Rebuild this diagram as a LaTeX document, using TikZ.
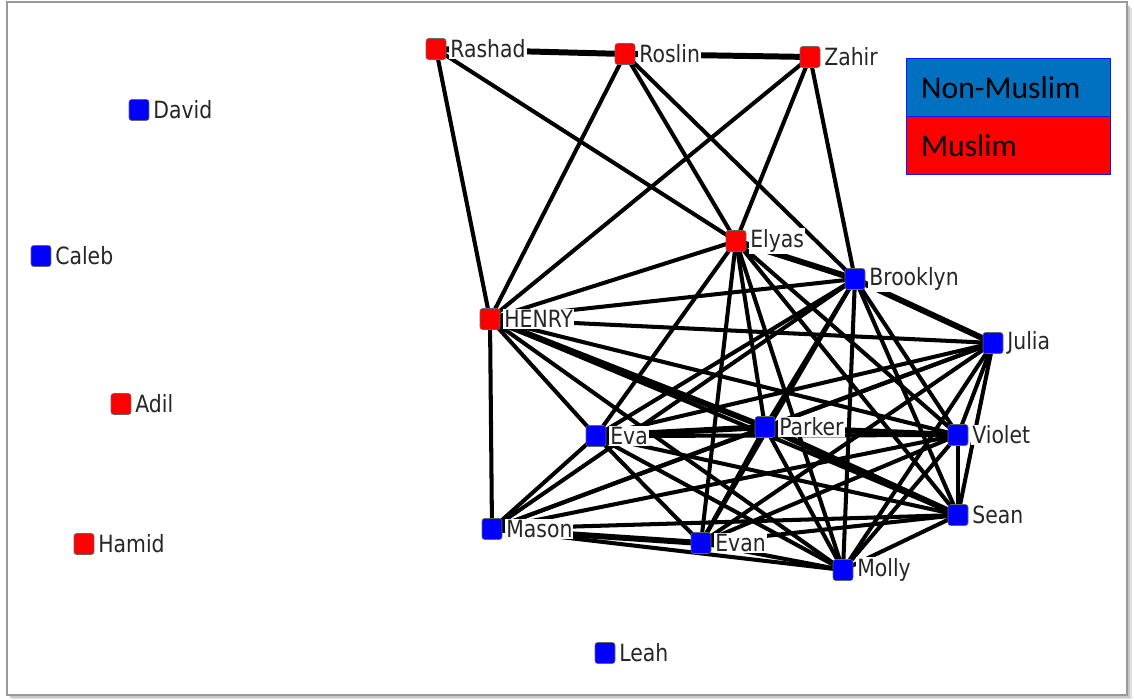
\documentclass[tikz,border=0pt]{standalone}
\usepackage{fontspec}
\newfontfamily\netfont[FakeStretch=0.86]{DejaVu Sans}
\newfontfamily\legfont{Carlito}
\pgfdeclarelayer{framelayer}
\pgfdeclarelayer{edgelayer}
\pgfsetlayers{framelayer,edgelayer,main}
\definecolor{nblue}{RGB}{0,0,255}
\definecolor{nred}{RGB}{255,0,0}
\definecolor{legblue}{RGB}{0,112,192}
\definecolor{legborder}{RGB}{20,20,255}
\tikzset{
  sq/.style={rectangle, rounded corners=1.5pt, minimum width=0.4cm, minimum height=0.42cm, inner sep=0pt, draw=black!60, line width=0.3pt},
  lbl/.style={anchor=west, fill=white, inner sep=0.6pt, font=\netfont\fontsize{13.5}{15}\selectfont, text=black!85, xshift=1.5pt},
  tie/.style={line width=2.3pt, black},
  strongtie/.style={line width=3.4pt, black},
  legcell/.style={rectangle, draw=legborder, line width=0.8pt, minimum width=4.08cm, minimum height=1.16cm, inner sep=0pt, text width=3.9cm, anchor=north west, font=\legfont\fontsize{18}{20}\selectfont, text=black, align=left}
}
\begin{document}
\begin{tikzpicture}[x=0.02cm, y=-0.02cm]
\useasboundingbox (0,0) rectangle (1134,700);
\begin{pgfonlayer}{framelayer}
  \fill[black!12] (12,8) rectangle (1132,699);
  \fill[black!22] (10,6) rectangle (1130,698);
  \filldraw[fill=white, draw=black!40, line width=0.6pt] (7,2) rectangle (1127,695);
\end{pgfonlayer}

% nodes
\foreach \n/\x/\y/\c in {Rashad/436/49/nred, Roslin/625/54/nred, Zahir/810/57/nred,
  David/139/110/nblue, Caleb/41/256/nblue, Elyas/736/241/nred, Brooklyn/855/279/nblue,
  HENRY/490/319/nred, Julia/993/343/nblue, Adil/121/404/nred, Parker/765/427/nblue,
  Eva/596/436/nblue, Violet/958/435/nblue, Sean/958/515/nblue, Mason/492/529/nblue,
  Evan/701/543/nblue, Molly/843/570/nblue, Hamid/84/544/nred, Leah/605/653/nblue}{
  \node[sq, fill=\c] (\n) at (\x,\y) {};
  \node[lbl] (\n-l) at (\n.east) {\n};
}

\begin{pgfonlayer}{edgelayer}
\foreach \a/\b in {Rashad/HENRY, Rashad/Elyas, Roslin/HENRY, Roslin/Elyas, Roslin/Brooklyn,
  Zahir/HENRY, Zahir/Elyas, Zahir/Brooklyn,
  Elyas/HENRY, Elyas/Eva, Elyas/Evan, Elyas/Parker, Elyas/Molly, Elyas/Sean, Elyas/Violet,
  HENRY/Brooklyn, HENRY/Julia, HENRY/Mason, HENRY/Eva, HENRY/Molly, HENRY/Violet, HENRY/Sean,
  Brooklyn/Eva, Brooklyn/Mason, Brooklyn/Parker, Brooklyn/Evan, Brooklyn/Molly, Brooklyn/Violet, Brooklyn/Sean,
  Julia/Eva, Julia/Parker, Julia/Mason, Julia/Evan, Julia/Violet, Julia/Sean, Julia/Molly,
  Parker/Molly, Parker/Evan, Parker/Mason,
  Eva/Mason, Eva/Evan, Eva/Molly, Eva/Sean, Eva/Violet,
  Mason/Molly, Mason/Sean, Mason/Violet,
  Evan/Molly, Evan/Sean, Evan/Violet,
  Molly/Sean, Molly/Violet, Violet/Sean}{
  \draw[tie] (\a.center) -- (\b.center);
}
\foreach \a/\b in {Rashad/Roslin, Roslin/Zahir, Elyas/Brooklyn, Brooklyn/Julia, Eva/Parker,
  Parker/Violet, HENRY/Parker, Mason/Evan, Parker/Sean}{
  \draw[strongtie] (\a.center) -- (\b.center);
}
\end{pgfonlayer}

% legend
\node[legcell, fill=legblue] (legNM) at (906,58) {\hspace*{0.2cm}Non-Muslim};
\node[legcell, fill=nred] (legM) at (906,116) {\hspace*{0.2cm}Muslim};
\end{tikzpicture}
\end{document}
